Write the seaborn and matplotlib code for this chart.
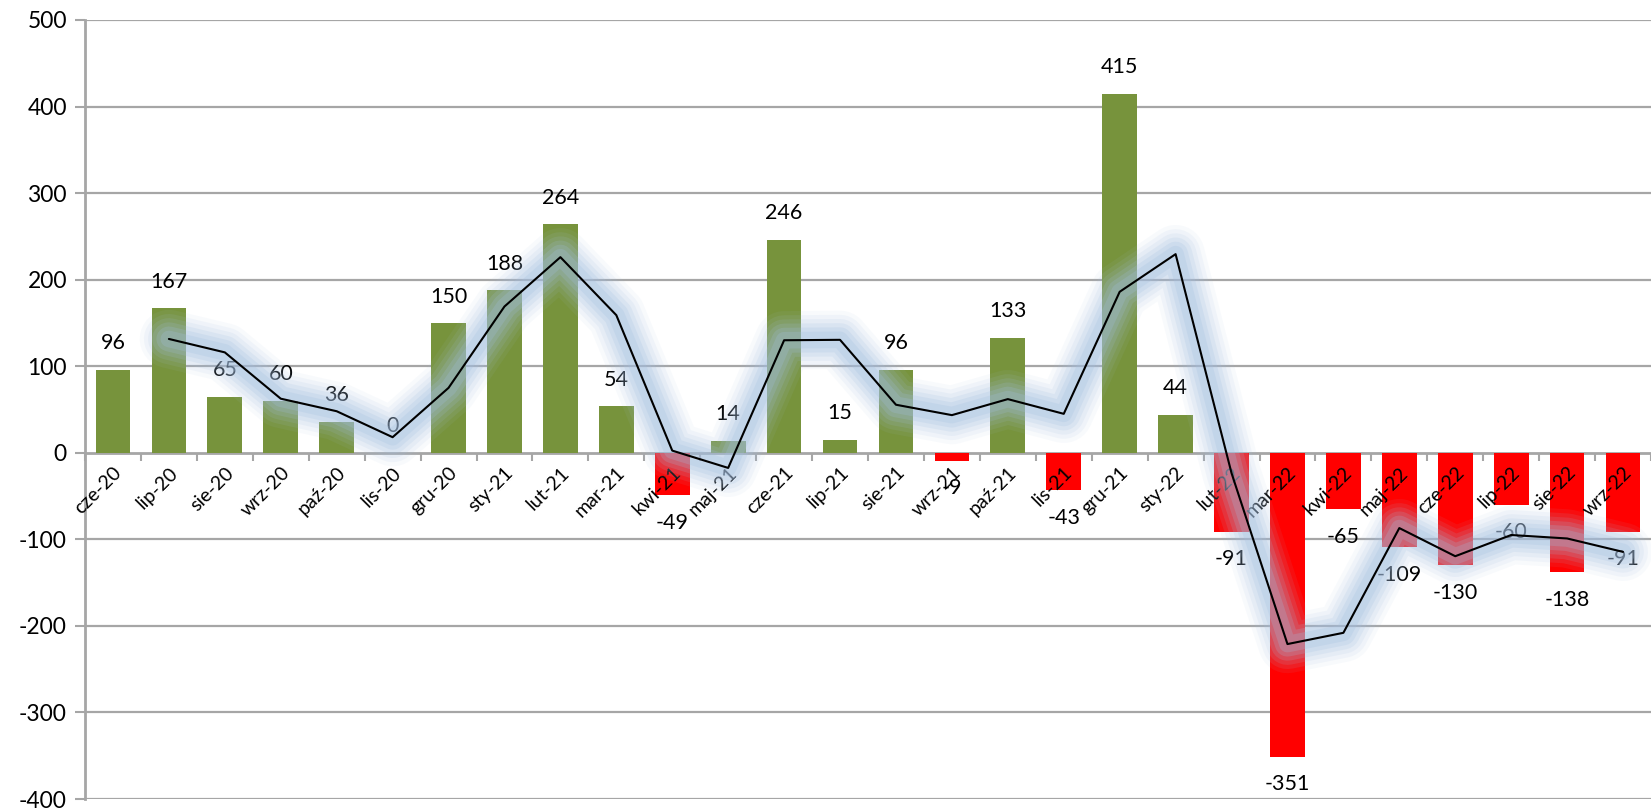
import numpy as np
import pandas as pd
import matplotlib
matplotlib.use("Agg")
import matplotlib.pyplot as plt
import seaborn as sns

months = ["cze-20", "lip-20", "sie-20", "wrz-20", "paź-20", "lis-20", "gru-20",
          "sty-21", "lut-21", "mar-21", "kwi-21", "maj-21", "cze-21", "lip-21",
          "sie-21", "wrz-21", "paź-21", "lis-21", "gru-21", "sty-22", "lut-22",
          "mar-22", "kwi-22", "maj-22", "cze-22", "lip-22", "sie-22", "wrz-22"]
values = [96, 167, 65, 60, 36, 0, 150, 188, 264, 54, -49, 14, 246, 15, 96, -9,
          133, -43, 415, 44, -91, -351, -65, -109, -130, -60, -138, -91]
trend = [np.nan, 131.5, 116, 62.5, 48, 18, 75, 169, 226, 159, 2.5, -17.5, 130,
         130.5, 55.5, 43.5, 62, 45, 186, 229.5, -23.5, -221, -208, -87, -119.5,
         -95, -99, -114.5]
y_ticks = [-400, -300, -200, -100, 0, 100, 200, 300, 400, 500]

GREEN = "#77933c"
RED = "#ff0000"
GRID = "#a6a6a6"

sns.set_theme(style="white")
plt.rcParams["font.family"] = ["Lato", "DejaVu Sans"]

df = pd.DataFrame({"month": months, "value": values, "trend": trend})
df["sign"] = np.where(df["value"] < 0, "neg", "pos")

fig = plt.figure(figsize=(16.51, 8.09), dpi=100)
ax = fig.add_axes([85 / 1651, 10 / 809, 1 - 85 / 1651, 1 - 30 / 809])

sns.barplot(data=df, x="month", y="value", hue="sign",
            palette={"pos": GREEN, "neg": RED}, dodge=False, width=0.62,
            saturation=1, legend=False, ax=ax, linewidth=0, zorder=2)

ax.set_ylim(-400, 500)
ax.set_xlim(-0.5, len(months) - 0.5)
ax.set_yticks(y_ticks)
ax.set_yticklabels([str(t) for t in y_ticks], fontsize=16.5)
ax.grid(False)
for t in y_ticks:
    if t != 0:
        ax.axhline(t, color=GRID, linewidth=1.6, zorder=0.5)
ax.set_axisbelow(False)
ax.set_xlabel("")
ax.set_ylabel("")

# data labels
for i, v in enumerate(values):
    off = 19 if v >= 0 else -20
    ax.annotate(str(v), (i, v), xytext=(0, off), textcoords="offset points",
                ha="center", va="center", fontsize=15.5, color="black", zorder=3)

# glow under trend line
x = np.arange(len(months))
tr = np.array(trend, dtype=float)
for lw, a in [(42, 0.07), (36, 0.10), (30, 0.13), (24, 0.17), (18, 0.21), (12, 0.24)]:
    ax.plot(x, tr, color="#a3bfe0", linewidth=lw, alpha=a,
            solid_capstyle="round", solid_joinstyle="round", zorder=4)
ax.plot(x, tr, color="black", linewidth=1.5, zorder=5)

# spines
for s in ["top", "right"]:
    ax.spines[s].set_visible(False)
ax.spines["left"].set_color(GRID)
ax.spines["left"].set_linewidth(2)
ax.spines["bottom"].set_position(("data", 0))
ax.spines["bottom"].set_color(GRID)
ax.spines["bottom"].set_linewidth(2)
ax.spines["bottom"].set_zorder(1.5)

ax.tick_params(axis="y", which="major", left=True, length=7, width=1.5,
               color=GRID, pad=6, labelcolor="black")
ax.set_xticks(x)
ax.set_xticklabels(months, rotation=45, ha="right", rotation_mode="anchor",
                   fontsize=14)
ax.tick_params(axis="x", which="major", length=0, pad=8, labelcolor="black")
ax.set_xticks(np.arange(len(months) + 1) - 0.5, minor=True)
ax.tick_params(axis="x", which="minor", bottom=True, length=6, width=1.5,
               color=GRID)
ax.xaxis.set_zorder(3)
ax.yaxis.set_zorder(3)

fig.savefig("out.png", dpi=100)
